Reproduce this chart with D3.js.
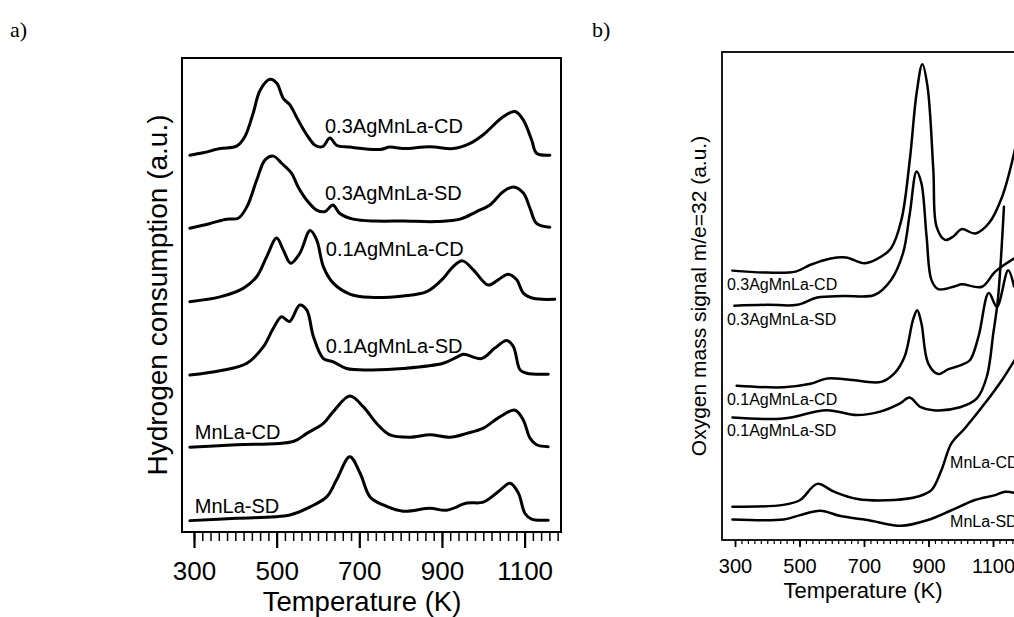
<!DOCTYPE html>
<html><head><meta charset="utf-8">
<script src="https://cdn.jsdelivr.net/npm/d3@7"></script>
<style>
body{margin:0;background:#fff;}
svg{display:block;}
text{font-family:"Liberation Sans",Arial,sans-serif;fill:#000;}
</style>
</head><body>
<svg id="c" width="1014" height="617"></svg>
<script>
// ---------- DATA ----------
const majorTicks = [300, 500, 700, 900, 1100];
const xTitle = "Temperature (K)";
const yTitleA = "Hydrogen consumption (a.u.)";
const yTitleB = "Oxygen mass signal m/e=32 (a.u.)";
const names = ["0.3AgMnLa-CD","0.3AgMnLa-SD","0.1AgMnLa-CD","0.1AgMnLa-SD","MnLa-CD","MnLa-SD"];

// Panel a: H2-TPR  [T (K), signal a.u. incl. offset]
const a_03CD = [[290,7.95],[322,8.00],[363,8.09],[403,8.14],[423,8.34],[443,8.83],[460,9.32],[484,9.55],[500,9.47],[516,9.15],[532,9.01],[552,8.69],[573,8.38],[593,8.16],[611,8.13],[629,8.31],[645,8.16],[677,8.12],[750,8.07],[774,8.12],[806,8.09],[871,8.13],[927,8.09],[968,8.20],[1000,8.38],[1048,8.76],[1077,8.87],[1097,8.69],[1117,8.27],[1129,7.99],[1161,7.95]];
const a_03SD = [[290,6.41],[339,6.51],[379,6.60],[407,6.62],[428,6.86],[452,7.43],[472,7.85],[492,7.93],[512,7.78],[536,7.57],[552,7.28],[573,7.00],[597,6.79],[617,6.76],[636,6.90],[653,6.72],[685,6.60],[742,6.56],[806,6.56],[887,6.55],[944,6.60],[984,6.76],[1016,6.90],[1048,7.18],[1073,7.28],[1097,7.15],[1113,6.83],[1129,6.51],[1161,6.43]];
const a_01CD = [[290,4.86],[363,4.96],[419,5.14],[452,5.39],[476,5.81],[500,6.20],[516,5.95],[534,5.67],[556,5.88],[581,6.36],[597,6.16],[613,5.60],[637,5.25],[677,5.02],[726,4.95],[806,4.98],[863,5.07],[903,5.35],[927,5.60],[950,5.72],[976,5.53],[1012,5.21],[1036,5.32],[1060,5.44],[1081,5.32],[1097,5.04],[1121,4.93],[1173,4.91]];
const a_01SD = [[290,3.31],[363,3.40],[428,3.56],[468,3.91],[492,4.30],[512,4.54],[531,4.44],[556,4.79],[573,4.68],[589,4.12],[613,3.66],[637,3.59],[669,3.45],[726,3.42],[806,3.45],[903,3.56],[936,3.69],[952,3.75],[996,3.66],[1028,3.88],[1057,4.04],[1073,3.91],[1089,3.42],[1105,3.35],[1157,3.33]];
const a_MnCD = [[290,1.79],[403,1.84],[540,1.91],[573,2.08],[613,2.29],[637,2.54],[677,2.87],[710,2.64],[742,2.29],[774,2.05],[823,2.00],[871,2.05],[919,2.00],[960,2.08],[1000,2.19],[1040,2.43],[1077,2.57],[1097,2.36],[1113,1.98],[1129,1.84],[1157,1.80]];
const a_MnSD = [[290,0.24],[403,0.29],[532,0.36],[581,0.53],[621,0.74],[645,1.10],[677,1.59],[702,1.24],[726,0.74],[758,0.57],[806,0.44],[871,0.50],[911,0.46],[960,0.61],[1000,0.63],[1036,0.85],[1065,1.03],[1085,0.82],[1101,0.39],[1117,0.27],[1157,0.25]];
// label anchors (T, a.u.)
const a_labels = [[617,8.42],[617,7.00],[619,5.82],[619,3.78],[302,1.96],[302,0.40]];

// Panel b: O2-TPD  [T (K), signal a.u. incl. offset]
const b_03CD = [[292,5.52],[399,5.48],[488,5.50],[534,5.64],[597,5.77],[644,5.79],[701,5.67],[738,5.75],[784,5.98],[816,6.56],[842,7.79],[863,9.15],[881,9.75],[897,9.29],[915,7.58],[925,6.42],[951,6.15],[977,6.22],[1003,6.37],[1045,6.28],[1087,6.49],[1128,7.03],[1170,8.06]];
const b_03SD = [[298,4.80],[399,4.82],[493,4.82],[555,4.97],[638,5.00],[732,5.02],[784,5.33],[821,5.88],[842,6.69],[863,7.55],[878,7.31],[894,6.22],[909,5.33],[930,5.14],[982,5.20],[1003,5.24],[1066,5.19],[1107,5.50],[1170,5.79]];
const b_01CD = [[305,3.16],[451,3.13],[534,3.20],[586,3.31],[649,3.29],[753,3.24],[795,3.42],[826,3.76],[852,4.51],[865,4.71],[878,4.44],[899,3.62],[930,3.40],[962,3.50],[1003,3.59],[1029,3.69],[1055,4.17],[1087,5.06],[1112,4.78],[1147,5.53],[1165,5.20]];
const b_01SD = [[292,2.51],[450,2.49],[584,2.66],[677,2.56],[750,2.63],[812,2.80],[841,2.92],[874,2.73],[915,2.66],[998,2.72],[1050,2.90],[1081,3.35],[1101,4.24],[1115,4.92],[1134,6.83]];
const b_MnCD = [[292,0.68],[450,0.72],[502,0.82],[555,1.15],[607,0.99],[680,0.84],[794,0.82],[867,0.89],[909,1.02],[940,1.43],[971,1.98],[1013,2.29],[1075,2.80],[1128,3.28],[1170,3.72]];
const b_MnSD = [[292,0.42],[450,0.42],[502,0.51],[565,0.60],[627,0.49],[711,0.41],[815,0.29],[898,0.41],[971,0.61],[1044,0.82],[1107,0.92],[1138,0.99],[1170,0.96]];
const b_labels = [[275,5.12],[275,4.41],[275,2.77],[275,2.13],[967,1.48],[967,0.27]];

// ---------- DRAWING ----------
const svg = d3.select("#c");

function panel(cfg) {
  const g = svg.append("g");
  const f = cfg.frame;
  const x = d3.scaleLinear().domain([300, 1100]).range(cfg.xr);
  const y = d3.scaleLinear().domain([0, 10]).range([f.y1, f.y0]);

  const cid = "clip" + cfg.id;
  svg.append("defs").append("clipPath").attr("id", cid)
    .append("rect").attr("x", f.x0).attr("y", f.y0).attr("width", f.x1 - f.x0).attr("height", f.y1 - f.y0);

  // minor ticks
  g.append("g").attr("transform", `translate(0,${f.y1})`)
    .call(d3.axisBottom(x).tickValues(d3.range(300, cfg.tmax + 1, 20)).tickSize(cfg.minorLen).tickFormat(""))
    .call(s => s.select(".domain").remove())
    .call(s => s.selectAll("line").attr("stroke", "#000").attr("stroke-width", cfg.minorW));

  // major ticks + labels
  g.append("g").attr("transform", `translate(0,${f.y1})`)
    .call(d3.axisBottom(x).tickValues(majorTicks).tickSize(cfg.majorLen).tickPadding(cfg.pad).tickFormat(d3.format("d")))
    .call(s => s.select(".domain").remove())
    .call(s => s.selectAll("line").attr("stroke", "#000").attr("stroke-width", cfg.majorW))
    .call(s => s.selectAll("text").attr("font-size", cfg.tickFont).attr("font-family", "Liberation Sans, Arial, sans-serif").attr("fill", "#000"));

  // curves
  const line = d3.line().x(d => x(d[0])).y(d => y(d[1])).curve(d3.curveCatmullRom.alpha(0.5));
  g.append("g").attr("clip-path", `url(#${cid})`)
    .selectAll("path").data(cfg.series).join("path")
    .attr("d", line).attr("fill", "none").attr("stroke", "#000")
    .attr("stroke-width", cfg.lineW).attr("stroke-linejoin", "round").attr("stroke-linecap", "round");

  // frame
  g.append("rect").attr("x", f.x0).attr("y", f.y0).attr("width", f.x1 - f.x0).attr("height", f.y1 - f.y0)
    .attr("fill", "none").attr("stroke", "#000").attr("stroke-width", cfg.frameW);

  // curve labels
  g.selectAll("text.lab").data(cfg.labels).join("text").attr("class", "lab")
    .attr("x", (d) => x(d[0])).attr("y", d => y(d[1]))
    .attr("font-size", cfg.labFont).text((d, i) => names[i]);

  // x title
  g.append("text").attr("x", cfg.xt[0]).attr("y", cfg.xt[1]).attr("text-anchor", "middle")
    .attr("font-size", cfg.titleFont).text(xTitle);
  // y title
  g.append("text").attr("transform", `translate(${cfg.yt[0]},${cfg.yt[1]}) rotate(-90)`)
    .attr("text-anchor", "middle").attr("font-size", cfg.yTitleFont).text(cfg.yTitle);
  // panel letter
  g.append("text").attr("x", cfg.letter[0]).attr("y", cfg.letter[1]).attr("font-size", 22)
    .style("font-family", "'Liberation Serif', serif").text(cfg.letterText);
}

panel({
  id: "a", frame: {x0: 182, x1: 561, y0: 58, y1: 532}, xr: [194, 524.6], tmax: 1180,
  minorLen: 9, majorLen: 16, minorW: 1.5, majorW: 2.2, pad: 13.5, tickFont: 26,
  series: [a_03CD, a_03SD, a_01CD, a_01SD, a_MnCD, a_MnSD], labels: a_labels,
  lineW: 3, frameW: 2, labFont: 20, titleFont: 27.5, yTitleFont: 28,
  xt: [362, 611], yt: [167, 295], yTitle: yTitleA, letter: [10, 37], letterText: "a)"
});

panel({
  id: "b", frame: {x0: 722, x1: 1022, y0: 52, y1: 540}, xr: [735, 993], tmax: 1180,
  minorLen: 4, majorLen: 7, minorW: 1.2, majorW: 1.8, pad: 12, tickFont: 20,
  series: [b_03CD, b_03SD, b_01CD, b_01SD, b_MnCD, b_MnSD], labels: b_labels,
  lineW: 2.5, frameW: 1.8, labFont: 16, titleFont: 22, yTitleFont: 21,
  xt: [863, 598], yt: [706, 296], yTitle: yTitleB, letter: [592, 37], letterText: "b)"
});
</script>
</body></html>
